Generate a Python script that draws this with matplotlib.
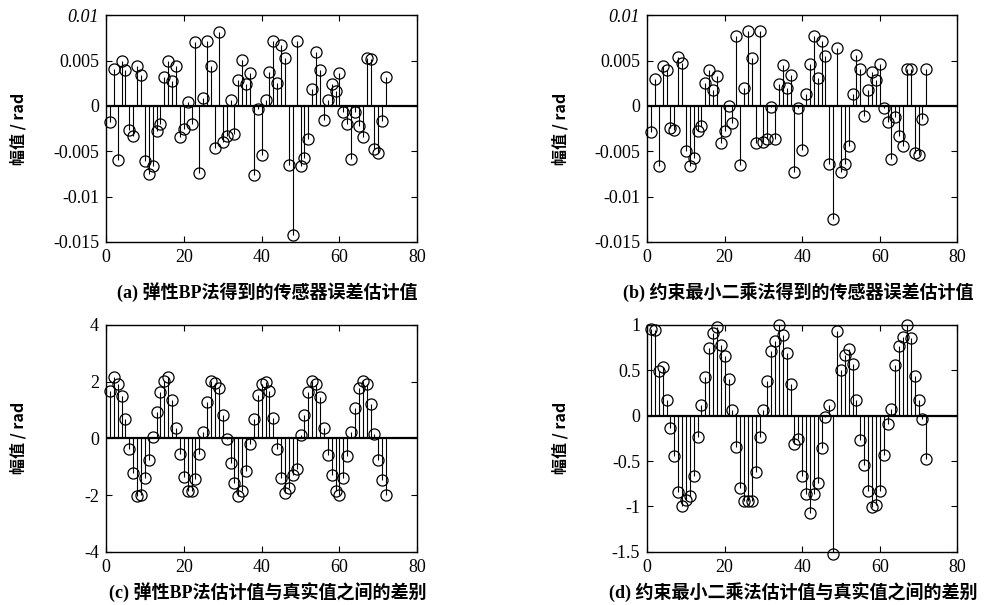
import matplotlib
matplotlib.use("Agg")
import matplotlib.pyplot as plt
import numpy as np

n = np.arange(1, 73)

# (a) 弹性BP法 sensor error estimate
est_bp = [
    -0.0018, 0.0041, -0.0060, 0.0050, 0.0040, -0.0027, -0.0033, 0.0044, 0.0034, -0.0061,
    -0.0075, -0.0066, -0.0028, -0.0020, 0.0032, 0.0049, 0.0027, 0.0044, -0.0034, -0.0025,
    0.0004, -0.0020, 0.0070, -0.0074, 0.0009, 0.0072, 0.0044, -0.0046, 0.0081, -0.0040,
    -0.0033, 0.0007, -0.0031, 0.0029, 0.0051, 0.0024, 0.0036, -0.0076, -0.0003, -0.0054,
    0.0006, 0.0037, 0.0071, 0.0025, 0.0067, 0.0053, -0.0065, -0.0142, 0.0072, -0.0066,
    -0.0057, -0.0036, 0.0019, 0.0059, 0.0040, -0.0016, 0.0007, 0.0024, 0.0016, 0.0036,
    -0.0007, -0.0020, -0.0058, -0.0007, -0.0022, -0.0034, 0.0053, 0.0052, -0.0047, -0.0052,
    -0.0017, 0.0032,
]

# (b) 约束最小二乘法 sensor error estimate
est_ls = [
    -0.0029, 0.0030, -0.0066, 0.0044, 0.0039, -0.0024, -0.0027, 0.0054, 0.0047, -0.0050,
    -0.0066, -0.0057, -0.0028, -0.0022, 0.0025, 0.0040, 0.0017, 0.0033, -0.0041, -0.0028,
    0.0000, -0.0019, 0.0077, -0.0065, 0.0020, 0.0083, 0.0053, -0.0041, 0.0083, -0.0040,
    -0.0037, -0.0001, -0.0036, 0.0024, 0.0045, 0.0020, 0.0034, -0.0073, -0.0002, -0.0049,
    0.0013, 0.0046, 0.0077, 0.0031, 0.0072, 0.0055, -0.0064, -0.0125, 0.0064, -0.0073,
    -0.0064, -0.0044, 0.0013, 0.0056, 0.0041, -0.0011, 0.0017, 0.0037, 0.0029, 0.0046,
    -0.0002, -0.0018, -0.0058, -0.0012, -0.0033, -0.0044, 0.0041, 0.0041, -0.0052, -0.0054,
    -0.0015, 0.0041,
]

# (c) 弹性BP法 estimate minus true value
diff_bp = [
    1.66, 2.17, 1.90, 1.48, 0.68, -0.36, -1.21, -2.05, -1.99, -1.41,
    -0.75, 0.06, 0.94, 1.63, 2.03, 2.15, 1.34, 0.37, -0.57, -1.36,
    -1.87, -1.85, -1.44, -0.57, 0.22, 1.29, 2.03, 1.94, 1.78, 0.83,
    -0.03, -0.87, -1.59, -2.05, -1.85, -1.15, -0.21, 0.68, 1.54, 1.90,
    2.00, 1.66, 0.71, -0.38, -1.41, -1.93, -1.76, -1.28, -1.09, 0.10,
    0.83, 1.63, 2.03, 1.92, 1.44, 0.37, -0.59, -1.30, -1.87, -2.01,
    -1.39, -0.61, 0.22, 1.06, 1.77, 2.03, 1.92, 1.21, 0.16, -0.75,
    -1.47, -2.01,
]

# (d) 约束最小二乘法 estimate minus true value
diff_ls = [
    0.95, 0.94, 0.49, 0.54, 0.17, -0.14, -0.45, -0.84, -1.00, -0.93,
    -0.89, -0.66, -0.23, 0.12, 0.43, 0.74, 0.91, 0.98, 0.78, 0.66,
    0.40, 0.06, -0.35, -0.80, -0.94, -0.94, -0.94, -0.62, -0.24, 0.06,
    0.38, 0.71, 0.82, 1.00, 0.89, 0.69, 0.35, -0.31, -0.26, -0.66,
    -0.86, -1.07, -0.86, -0.74, -0.36, -0.01, 0.12, -1.52, 0.93, 0.50,
    0.67, 0.73, 0.57, 0.17, -0.27, -0.54, -0.83, -1.01, -0.99, -0.83,
    -0.43, -0.09, 0.07, 0.56, 0.77, 0.87, 1.00, 0.86, 0.44, 0.17,
    -0.04, -0.48,
]

panels = [
    (est_bp, (-0.015, 0.01), [-0.015, -0.01, -0.005, 0, 0.005, 0.01],
     ["-0.015", "-0.01", "-0.005", "0", "0.005", "0.01"],
     "(a) 弹性BP法得到的传感器误差估计值"),
    (est_ls, (-0.015, 0.01), [-0.015, -0.01, -0.005, 0, 0.005, 0.01],
     ["-0.015", "-0.01", "-0.005", "0", "0.005", "0.01"],
     "(b) 约束最小二乘法得到的传感器误差估计值"),
    (diff_bp, (-4, 4), [-4, -2, 0, 2, 4], ["-4", "-2", "0", "2", "4"],
     "(c) 弹性BP法估计值与真实值之间的差别"),
    (diff_ls, (-1.5, 1), [-1.5, -1, -0.5, 0, 0.5, 1],
     ["-1.5", "-1", "-0.5", "0", "0.5", "1"],
     "(d) 约束最小二乘法估计值与真实值之间的差别"),
]

rects = [
    [0.107, 0.600, 0.314, 0.375],
    [0.653, 0.600, 0.313, 0.375],
    [0.107, 0.088, 0.314, 0.375],
    [0.653, 0.088, 0.313, 0.375],
]
caption_pos = [(0.27, 0.517), (0.805, 0.517), (0.27, 0.022), (0.800, 0.022)]
ylabel_x = [0.018, 0.565, 0.018, 0.565]

serif = "Liberation Serif"
cjk = ["Liberation Serif", "Noto Sans CJK SC"]

fig = plt.figure(figsize=(9.91, 6.05), dpi=100)

for i, (vals, ylim, yt, ytl, cap) in enumerate(panels):
    ax = fig.add_axes(rects[i])
    markerline, stemlines, baseline = ax.stem(n, vals, basefmt="k-")
    markerline.set_marker("o")
    markerline.set_markerfacecolor("none")
    markerline.set_markeredgecolor("black")
    markerline.set_markersize(8)
    markerline.set_markeredgewidth(0.9)
    markerline.set_clip_on(False)
    stemlines.set_color("black")
    stemlines.set_linewidth(0.8)
    baseline.set_linewidth(1.6)
    baseline.set_xdata([0, 80])

    ax.set_xlim(0, 80)
    ax.set_ylim(*ylim)
    ax.set_xticks([0, 20, 40, 60, 80])
    ax.set_xticklabels(["0", "20", "40", "60", "80"], fontfamily=serif, fontsize=13)
    ax.set_yticks(yt)
    ax.set_yticklabels(ytl, fontfamily=serif, fontsize=13)
    if ylim[1] == 0.01:
        ax.get_yticklabels()[-1].set_fontstyle("italic")
    ax.tick_params(direction="in", top=True, right=True, length=4, width=0.8, pad=5)
    for sp in ax.spines.values():
        sp.set_linewidth(1.0)

    fig.text(ylabel_x[i], rects[i][1] + rects[i][3] / 2, "幅值 / rad",
             rotation=90, ha="center", va="center",
             family=["Noto Sans CJK SC"], fontweight="bold", fontsize=11.5)
    fig.text(caption_pos[i][0], caption_pos[i][1], cap, ha="center", va="center",
             family=cjk, fontweight="bold", fontsize=13)

fig.savefig("out.png", dpi=100)
